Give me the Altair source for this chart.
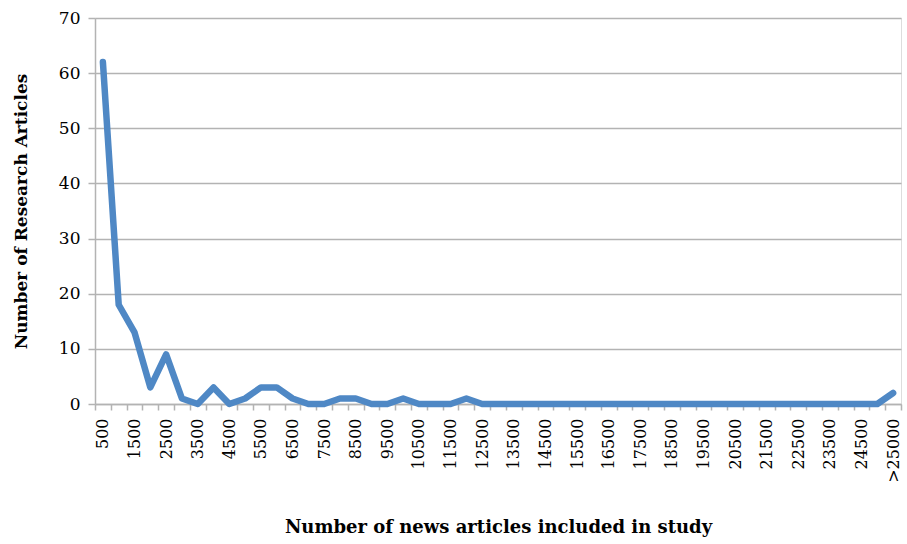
import altair as alt
import pandas as pd

categories = [str(500 * (i + 1)) for i in range(50)] + [">25000"]
values = [62, 18, 13, 3, 9, 1, 0, 3, 0, 1,
          3, 3, 1, 0, 0, 1, 1, 0, 0, 1,
          0, 0, 0, 1, 0, 0, 0, 0, 0, 0,
          0, 0, 0, 0, 0, 0, 0, 0, 0, 0,
          0, 0, 0, 0, 0, 0, 0, 0, 0, 0,
          2]

df = pd.DataFrame({"cat": categories, "val": values})

FONT = "DejaVu Serif"
GRID = "#b3b3b3"

chart = alt.Chart(df).mark_line(
    color="#4f88c5", strokeWidth=6.5, strokeCap="round", strokeJoin="round"
).encode(
    x=alt.X(
        "cat:N",
        sort=categories,
        bandPosition=0.5,
        scale=alt.Scale(paddingInner=0, paddingOuter=0),
        axis=alt.Axis(
            title="Number of news articles included in study",
            titleFont=FONT, titleFontSize=18, titleFontWeight="bold",
            titleColor="#000000", titleY=114, titleBaseline="top",
            labelFont=FONT, labelFontSize=16, labelColor="#000000",
            labelAngle=-90, labelAlign="right", labelBaseline="middle",
            labelPadding=8,
            labelExpr="(datum.value == '>25000' || toNumber(datum.value) % 1000 == 500) ? datum.label : ''",
            labelOverlap=False,
            tickBand="extent", tickSize=6, tickColor=GRID, tickWidth=1.5,
            domainColor=GRID, domainWidth=1.5, grid=False,
        ),
    ),
    y=alt.Y(
        "val:Q",
        scale=alt.Scale(domain=[0, 70], nice=False),
        axis=alt.Axis(
            title="Number of Research Articles",
            titleFont=FONT, titleFontSize=17, titleFontWeight="bold",
            titleColor="#000000", titleX=-74, titleBaseline="middle",
            values=[0, 10, 20, 30, 40, 50, 60, 70],
            labelFont=FONT, labelFontSize=17, labelColor="#000000",
            labelPadding=8,
            tickSize=7, tickColor=GRID, tickWidth=1.5,
            domainColor=GRID, domainWidth=1.5,
            grid=True, gridColor=GRID, gridWidth=1.5,
        ),
    ),
).properties(
    width=806, height=386,
    autosize=alt.AutoSizeParams(type="none"),
    padding={"left": 95, "top": 18, "right": 6, "bottom": 140},
).configure_view(stroke=None).configure(background="white")

chart.save("out.html", embed_options={"renderer": "svg", "actions": False})
